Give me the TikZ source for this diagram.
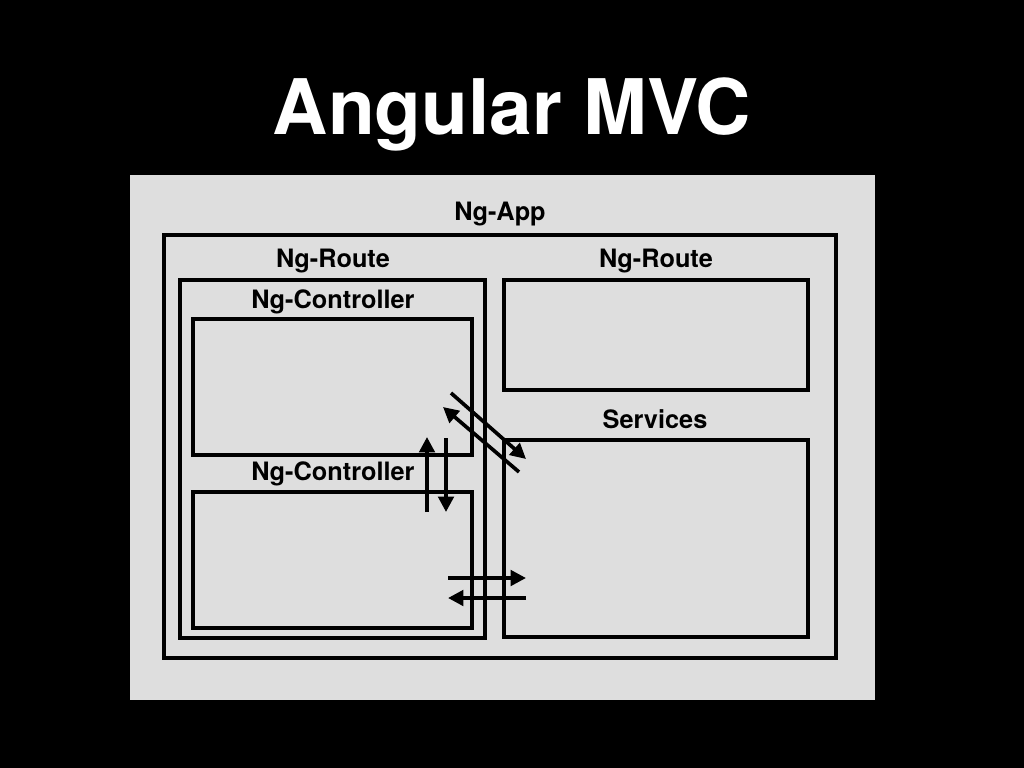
\documentclass[tikz,border=0pt]{standalone}
\usepackage{fontspec}
\setmainfont{TeX Gyre Heros}
\usetikzlibrary{arrows.meta}

\definecolor{panelgray}{HTML}{DEDEDE}

\tikzset{
    box/.style={draw=black, line width=2.6pt},
    label/.style={font=\bfseries\fontsize{18}{20}\selectfont, inner sep=0pt},
    flow/.style={line width=2.6pt, -{Triangle[length=11pt,width=11pt]}}
}

\begin{document}
\begin{tikzpicture}[x=0.025cm, y=-0.025cm]

    % background and panel
    \fill[black] (0,0) rectangle (1024,768);
    \fill[panelgray] (130,175) rectangle (875,700);

    % title
    \node[text=white, font=\bfseries\fontsize{54.5}{60}\selectfont, inner sep=0pt] (title) at (512,114) {Angular MVC};

    % these are the boxes
    \node[label] (app) at (500,214) {Ng-App};
    \draw[box] (164,235) rectangle (836,658);

    \node[label] (routeL) at (333,261) {Ng-Route};
    \draw[box] (180,280) rectangle (485,638);

    \node[label] (routeR) at (656,261) {Ng-Route};
    \draw[box] (504,280) rectangle (808,390);

    \node[label] (ctrlA) at (333,302) {Ng-Controller};
    \draw[box] (193,319) rectangle (472,455);

    \node[label] (ctrlB) at (333,474) {Ng-Controller};
    \draw[box] (193,492) rectangle (472,628);

    \node[label] (services) at (655,419) {Services};
    \draw[box] (504,440) rectangle (808,637);

    % these are the arrow ends
    \coordinate (upS) at (427,512);
    \coordinate (upE) at (427,437);
    \coordinate (downS) at (446,438);
    \coordinate (downE) at (446,512);
    \coordinate (diagS) at (451,393);
    \coordinate (diagE) at (526,459);
    \coordinate (backS) at (519,472);
    \coordinate (backE) at (443,407);
    \coordinate (rightS) at (448,578);
    \coordinate (rightE) at (526,578);
    \coordinate (leftS) at (526,598);
    \coordinate (leftE) at (448,598);

    \draw[flow] (upS) -- (upE);
    \draw[flow] (downS) -- (downE);
    \draw[flow] (diagS) -- (diagE);
    \draw[flow] (backS) -- (backE);
    \draw[flow] (rightS) -- (rightE);
    \draw[flow] (leftS) -- (leftE);

\end{tikzpicture}
\end{document}
